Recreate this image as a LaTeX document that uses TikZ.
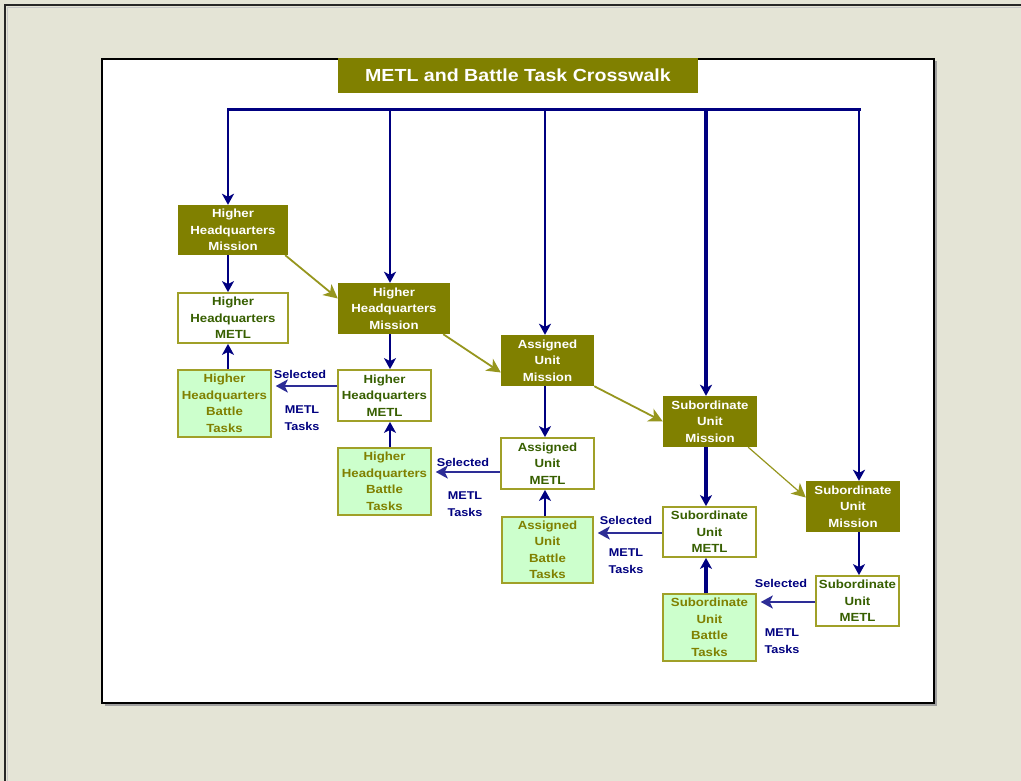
\documentclass[tikz,border=0pt]{standalone}
\usepackage{fontspec}
\setmainfont{Liberation Sans}
\newfontfamily\boxfont[FakeStretch=1.12]{Liberation Sans}
\usetikzlibrary{arrows.meta,calc}

\definecolor{pagebg}{RGB}{228,228,214}
\definecolor{olivefill}{RGB}{128,128,0}
\definecolor{oliveline}{RGB}{160,160,40}
\definecolor{olivearrow}{RGB}{150,150,30}
\definecolor{navyline}{RGB}{0,0,128}
\definecolor{selline}{RGB}{45,45,150}
\definecolor{battlefill}{RGB}{204,255,204}
\definecolor{metltext}{RGB}{55,95,0}
\definecolor{battletext}{RGB}{128,128,0}

\begin{document}
\begin{tikzpicture}[x=1pt,y=-1pt,
  boxtext/.style={font=\boxfont\bfseries\fontsize{11.8}{16.5}\selectfont, align=center, inner sep=0pt},
  sz/.style 2 args={minimum width=#1pt, minimum height=#2pt},
  missionbox/.style={boxtext, fill=olivefill, text=white},
  metlbox/.style={boxtext, fill=white, draw=oliveline, line width=1.8pt, text=metltext},
  battlebox/.style={boxtext, fill=battlefill, draw=oliveline, line width=1.5pt, text=battletext},
  titlebox/.style={fill=olivefill, text=white, inner sep=0pt, sz={360}{35},
    font=\boxfont\bfseries\fontsize{17.5}{19}\selectfont},
  navyarrow/.style={draw=navyline, line width=2.2pt, -{Stealth[length=11pt,width=12pt,inset=3pt]}},
  thickarrow/.style={navyarrow, line width=3.6pt},
  selarrow/.style={draw=selline, line width=2.8pt, shorten >=4pt, -{Stealth[length=12pt,width=13pt,inset=3pt]}},
  oarrow/.style={draw=olivearrow, line width=1.8pt, -{Stealth[length=14pt,width=14pt,inset=4pt]}},
  lbl/.style={font=\boxfont\bfseries\fontsize{11.3}{17}\selectfont, text=navyline, inner sep=0pt, align=center}
]
% page and frame
\useasboundingbox (0,0) rectangle (1021,781);
\fill[pagebg] (0,0) rectangle (1021,781);
\draw[black!85, line width=1.5pt] (5,781) -- (5,5) -- (1021,5);
\draw[gray!45, line width=0.8pt] (7.2,781) -- (7.2,7.2) -- (1021,7.2);

% white panel with shadow
\fill[gray!75] (104.5,61.5) rectangle (936.5,705.5);
\filldraw[fill=white, draw=black, line width=1.6pt] (102,59) rectangle (934,703);

% title
\node[titlebox] (title) at (518,75.5) {METL and Battle Task Crosswalk};

% column 1
\node[missionbox, sz={110}{50}] (M1) at (233,230) {Higher\\Headquarters\\Mission};
\node[metlbox, sz={110}{50}] (T1) at (233,318) {Higher\\Headquarters\\METL};
\node[battlebox, sz={93}{67}] (B1) at (224.5,403.5) {Higher\\Headquarters\\Battle\\Tasks};

% column 2
\node[missionbox, sz={112}{51}] (M2) at (394,308.5) {Higher\\Headquarters\\Mission};
\node[metlbox, sz={93}{51}] (T2) at (384.5,395.5) {Higher\\Headquarters\\METL};
\node[battlebox, sz={93}{67}] (B2) at (384.5,481.5) {Higher\\Headquarters\\Battle\\Tasks};

% column 3
\node[missionbox, sz={93}{51}] (M3) at (547.5,360.5) {Assigned\\Unit\\Mission};
\node[metlbox, sz={93}{51}] (T3) at (547.5,463.5) {Assigned\\Unit\\METL};
\node[battlebox, sz={91}{66}] (B3) at (547.5,550) {Assigned\\Unit\\Battle\\Tasks};

% column 4
\node[missionbox, sz={94}{51}] (M4) at (710,421.5) {Subordinate\\Unit\\Mission};
\node[metlbox, sz={93}{50}] (T4) at (709.5,532) {Subordinate\\Unit\\METL};
\node[battlebox, sz={93}{67}] (B4) at (709.5,627.5) {Subordinate\\Unit\\Battle\\Tasks};

% column 5
\node[missionbox, sz={94}{51}] (M5) at (853,506.5) {Subordinate\\Unit\\Mission};
\node[metlbox, sz={83}{50}] (T5) at (857.5,601) {Subordinate\\Unit\\METL};

% distribution bus
\coordinate (d1) at (228,110);
\coordinate (d2) at (390,110);
\coordinate (d3) at (545,110);
\coordinate (d4) at (706,110);
\coordinate (d5) at (859,110);
\draw[navyline, line width=3pt, line cap=rect] (d1) -- (d5);
\draw[navyarrow] (d1) -- (M1.north -| d1);
\draw[navyarrow] (d2) -- (M2.north -| d2);
\draw[navyarrow] (d3) -- (M3.north -| d3);
\draw[thickarrow] (d4) -- (M4.north -| d4);
\draw[navyarrow] (d5) -- (M5.north -| d5);

% mission to METL
\draw[navyarrow] (M1.south -| d1) -- (T1.north -| d1);
\draw[navyarrow] (M2.south -| d2) -- (T2.north -| d2);
\draw[navyarrow] (M3.south -| d3) -- (T3.north -| d3);
\draw[thickarrow] (M4.south -| d4) -- (T4.north -| d4);
\draw[navyarrow] (M5.south -| d5) -- (T5.north -| d5);

% battle tasks to METL
\draw[navyarrow] (B1.north -| d1) -- (T1.south -| d1);
\draw[navyarrow] (B2.north -| d2) -- (T2.south -| d2);
\draw[navyarrow] (B3.north -| d3) -- (T3.south -| d3);
\draw[thickarrow] (B4.north -| d4) -- (T4.south -| d4);

% selected METL tasks
\draw[selarrow] ([yshift=9.5pt]T2.west) -- ([yshift=9.5pt]T2.west -| B1.east);
\draw[selarrow] ([yshift=-8.5pt]T3.west) -- ([yshift=-8.5pt]T3.west -| B2.east);
\draw[selarrow] ([yshift=-1pt]T4.west) -- ([yshift=-1pt]T4.west -| B3.east);
\draw[selarrow] ([yshift=-1pt]T5.west) -- ([yshift=-1pt]T5.west -| B4.east);

\node[lbl] (s1) at (300,374) {Selected};
\node[lbl] (k1) at (302,418.5) {METL\\Tasks};
\node[lbl] (s2) at (463,462) {Selected};
\node[lbl] (k2) at (465,504) {METL\\Tasks};
\node[lbl] (s3) at (626,520) {Selected};
\node[lbl] (k3) at (626,561.5) {METL\\Tasks};
\node[lbl] (s4) at (781,583) {Selected};
\node[lbl] (k4) at (782,641.5) {METL\\Tasks};

% mission cascade
\draw[oarrow] ([xshift=-3pt]M1.south east) -- ([yshift=10pt]M2.west);
\draw[oarrow] ([xshift=-7pt]M2.south east) -- ([yshift=-12pt]M3.west);
\draw[oarrow] (M3.south east) -- (M4.west);
\draw[oarrow, line width=1.2pt] ([xshift=-9pt]M4.south east) -- ([yshift=9pt]M5.west);
\end{tikzpicture}
\end{document}
